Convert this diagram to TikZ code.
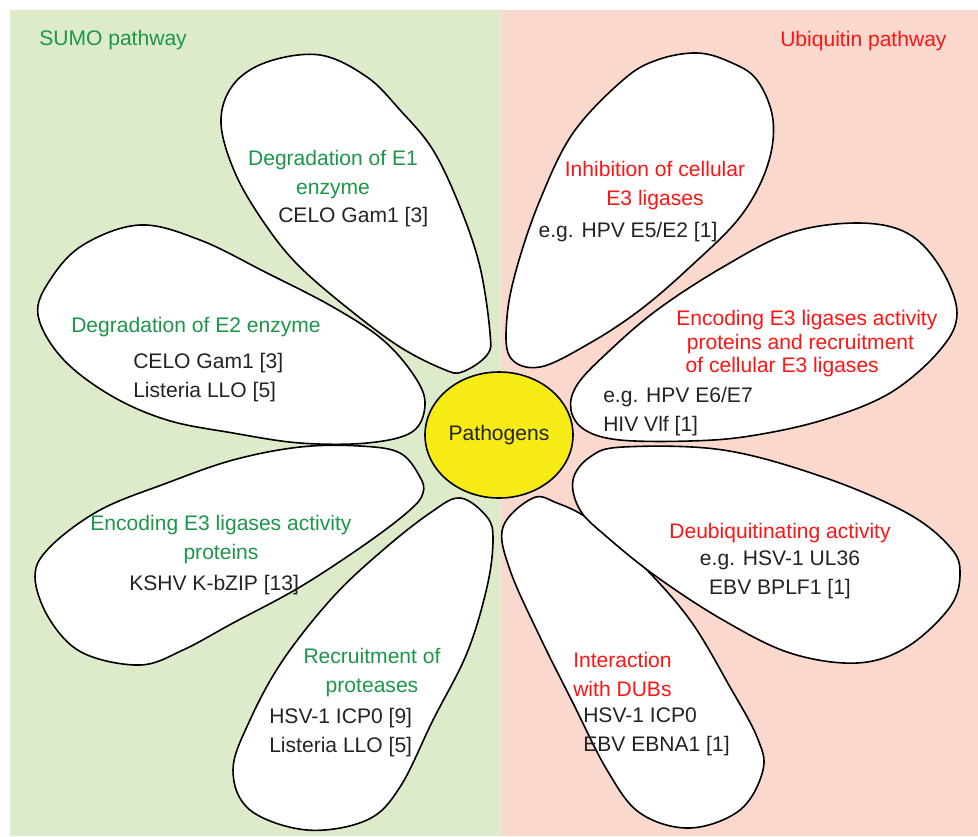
\documentclass[tikz,border=0pt]{standalone}
\usepackage{fontspec}
\setmainfont{Liberation Sans}
\usetikzlibrary{shapes.geometric}

\definecolor{sumobg}{RGB}{222,235,203}
\definecolor{ubqbg}{RGB}{251,216,205}
\definecolor{sumotext}{RGB}{28,150,72}
\definecolor{ubqtext}{RGB}{255,20,20}
\definecolor{coreyellow}{RGB}{246,235,20}
\definecolor{ink}{RGB}{35,35,35}

\tikzset{
  petal/.style={draw=black, fill=white, line width=1.2pt},
  every node/.style={font=\fontsize{15.8}{21.5}\selectfont, inner sep=0pt},
  sumolabel/.style={text=sumotext, align=center},
  ubqlabel/.style={text=ubqtext, align=center},
  example/.style={text=ink, align=left},
}

\begin{document}
\begin{tikzpicture}[x=0.75pt,y=-0.75pt]
\useasboundingbox (0,0) rectangle (978,836);
\fill[sumobg] (10,10) rectangle (501,836);
\fill[ubqbg] (501,10) rectangle (978,836);

\node[text=sumotext, anchor=north west] (sumo) at (39,30) {SUMO pathway};
\node[text=ubqtext, anchor=north west] (ubq) at (780,31) {Ubiquitin pathway};

% petals, SUMO side
\draw[petal] plot[smooth cycle, tension=0.6] coordinates {(320,55) (367,77) (400,110) (433,150) (460,207) (480,267) (490,333) (487,355) (462,372) (443,369) (400,347) (350,310) (300,267) (267,227) (236,175) (221,123) (233,85) (267,62)};
\draw[petal] plot[smooth cycle, tension=0.6] coordinates {(140,225) (200,240) (267,273) (333,307) (383,340) (415,377) (425,405) (412,432) (367,443) (300,443) (233,433) (167,420) (110,395) (62,358) (38,315) (50,280) (83,245)};
\draw[petal] plot[smooth cycle, tension=0.6] coordinates {(233,460) (300,447) (360,446) (400,453) (420,477) (423,493) (410,510) (367,543) (300,587) (233,623) (183,650) (140,665) (83,653) (50,620) (35,577) (50,547) (100,510) (167,483)};
\draw[petal] plot[smooth cycle, tension=0.6] coordinates {(460,498) (487,517) (493,540) (487,587) (467,653) (433,720) (400,787) (367,820) (307,830) (250,810) (233,770) (250,720) (283,660) (333,597) (383,550) (430,513)};

% petals, ubiquitin side
\draw[petal] plot[smooth cycle, tension=0.6] coordinates {(533,498) (557,503) (590,520) (640,563) (690,620) (730,687) (757,737) (763,770) (740,810) (690,828) (640,813) (607,770) (573,703) (540,637) (510,570) (503,527)};
\draw[petal] plot[smooth cycle, tension=0.6] coordinates {(590,457) (623,447) (723,450) (823,477) (907,513) (950,547) (960,573) (950,607) (907,647) (857,663) (790,653) (723,620) (657,577) (607,537) (580,510) (573,480)};
\draw[petal] plot[smooth cycle, tension=0.6] coordinates {(857,223) (907,233) (940,267) (957,313) (940,350) (890,393) (823,420) (750,436) (690,441) (620,440) (585,430) (571,410) (577,385) (607,353) (657,310) (723,267) (790,233)};
\draw[petal] plot[smooth cycle, tension=0.6] coordinates {(697,53) (730,62) (757,80) (773,120) (767,167) (740,217) (690,267) (640,310) (590,343) (540,367) (510,357) (507,317) (517,267) (540,200) (573,133) (623,80) (657,60)};

% texts
\node[sumolabel, anchor=north] (e1title) at (333,150) {Degradation of E1\\enzyme};
\node[example, anchor=north west] (e1ex) at (278,207) {CELO Gam1 [3]};
\node[sumolabel, anchor=north] (e2title) at (196,317) {Degradation of E2 enzyme};
\node[example, anchor=north west] (e2ex) at (133,353) {CELO Gam1 [3]\\Listeria LLO [5]};
\node[sumolabel, anchor=north] (e3title) at (221,515) {Encoding E3 ligases activity\\proteins};
\node[example, anchor=north west] (e3ex) at (129,575) {KSHV K-bZIP [13]};
\node[sumolabel, anchor=north] (prottitle) at (372,648) {Recruitment of\\proteases};
\node[example, anchor=north west] (protex) at (269,708) {HSV-1 ICP0 [9]\\Listeria LLO [5]};

\node[ubqlabel, align=left, anchor=north west] (dubtitle) at (573,652) {Interaction\\with DUBs};
\node[example, anchor=north west] (dubex) at (583,708) {HSV-1 ICP0\\EBV EBNA1 [1]};
\node[ubqlabel, anchor=north] (deubtitle) at (780,523) {Deubiquitinating activity};
\node[example, align=center, anchor=north] (deubex) at (780,551) {e.g. HSV-1 UL36\\EBV BPLF1 [1]};
\node[ubqlabel, align=left, anchor=north west, font=\fontsize{15.8}{17.6}\selectfont] (e3rtitle) at (676,310) {Encoding E3 ligases activity\\\hspace*{8pt}proteins and recruitment\\\hspace*{7pt}of cellular E3 ligases};
\node[example, anchor=north west] (e3rex) at (603,387) {e.g. HPV E6/E7\\HIV Vlf [1]};
\node[ubqlabel, anchor=north] (inhtitle) at (655,161) {Inhibition of cellular\\E3 ligases};
\node[example, anchor=north] (inhex) at (628,222) {e.g. HPV E5/E2 [1]};

\node[ellipse, draw=black, fill=coreyellow, line width=1.2pt, text=ink,
      minimum width=111pt, minimum height=94.5pt] (pathogens) at (499,435) {Pathogens};
\end{tikzpicture}
\end{document}
